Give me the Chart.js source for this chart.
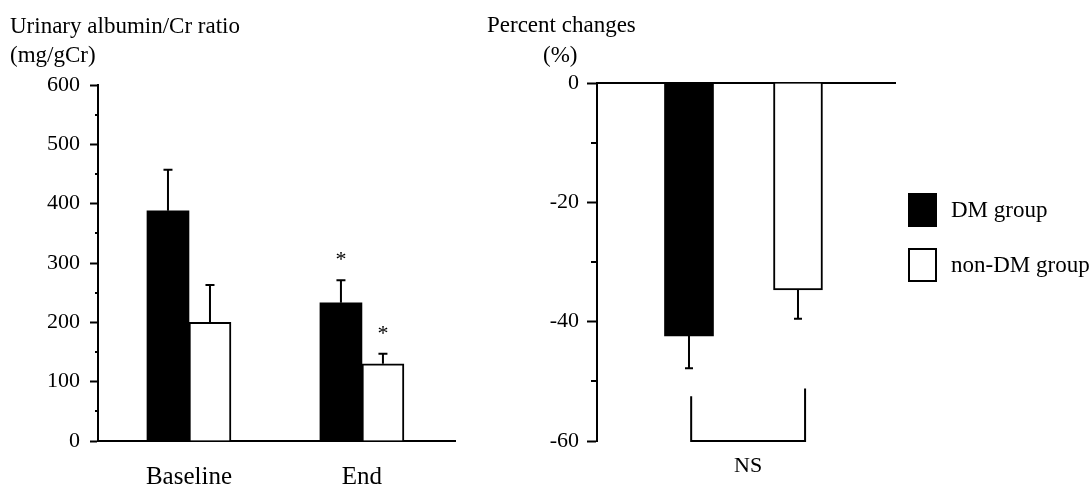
<!DOCTYPE html>
<html><head><meta charset="utf-8">
<script src="https://cdn.jsdelivr.net/npm/chart.js@4/dist/chart.umd.min.js"></script>
<style>
html,body{margin:0;padding:0;background:#fff;overflow:hidden}
#wrap{position:relative;width:1091px;height:488px;background:#fff}
#c1{position:absolute;left:0;top:0}
#c2{position:absolute;left:480px;top:0}
</style></head><body>
<div id="wrap"><canvas id="c1" width="480" height="488"></canvas><canvas id="c2" width="611" height="488"></canvas></div>
<script>
// ---- data ----
const periods = ['Baseline', 'End'];
const groups = ['DM group', 'non-DM group'];
const uacrDM = [388, 233];
const uacrDMErr = [69, 38];
const uacrNonDM = [200, 130];
const uacrNonDMErr = [63, 17];
const uacrDMMarks = ['', '*'];
const uacrNonDMMarks = ['', '*'];
const uacrTicks = [0, 100, 200, 300, 400, 500, 600];
const pctChange = [-42.4, -34.7];
const pctErr = [5.4, 4.8];
const pctTicks = [0, -20, -40, -60];
const leftTitle = ['Urinary albumin/Cr ratio', '(mg/gCr)'];
const rightTitle = ['Percent changes', '(%)'];
const nsLabel = 'NS';
const nsBracketTops = [-52.5, -51.2];
const nsBracketBottom = -60;

// ---- style ----
const FONT = "'Liberation Serif', 'Times New Roman', serif";
Chart.defaults.font.family = FONT;
Chart.defaults.color = '#000';

function drawErrorBars(chart, capHalf) {
  const ctx = chart.ctx;
  const ys = chart.scales.y;
  ctx.save();
  ctx.strokeStyle = '#000';
  ctx.lineWidth = 2;
  chart.data.datasets.forEach((ds, di) => {
    const meta = chart.getDatasetMeta(di);
    meta.data.forEach((el, i) => {
      const v = ds.data[i].y;
      const e = ds.err[i];
      const end = v >= 0 ? v + e : v - e;
      const y0 = ys.getPixelForValue(v);
      const y1 = ys.getPixelForValue(end);
      ctx.beginPath();
      ctx.moveTo(el.x, y0);
      ctx.lineTo(el.x, y1);
      ctx.moveTo(el.x - capHalf, y1);
      ctx.lineTo(el.x + capHalf, y1);
      ctx.stroke();
      if (ds.marks && ds.marks[i]) {
        ctx.fillStyle = '#000';
        ctx.font = '22px ' + FONT;
        ctx.textAlign = 'center';
        ctx.textBaseline = 'alphabetic';
        ctx.fillText(ds.marks[i], el.x, y1 - 14);
      }
    });
  });
  ctx.restore();
}

function drawMinorTicks(chart, len, width) {
  const ctx = chart.ctx;
  const ys = chart.scales.y;
  const ticks = ys.ticks.map(t => t.value).sort((a, b) => a - b);
  const x = chart.chartArea.left;
  ctx.save();
  ctx.strokeStyle = '#000';
  ctx.lineWidth = width;
  for (let i = 0; i < ticks.length - 1; i++) {
    const mid = (ticks[i] + ticks[i + 1]) / 2;
    const y = Math.round(ys.getPixelForValue(mid));
    ctx.beginPath();
    ctx.moveTo(x - len, y);
    ctx.lineTo(x, y);
    ctx.stroke();
  }
  ctx.restore();
}

// ---- left chart ----
new Chart(document.getElementById('c1'), {
  type: 'bar',
  data: {
    datasets: [
      { label: groups[0], data: periods.map((p, i) => ({ x: i + 1, y: uacrDM[i] })),
        backgroundColor: '#000', borderColor: '#000', borderWidth: 0, err: uacrDMErr, marks: uacrDMMarks },
      { label: groups[1], data: periods.map((p, i) => ({ x: i + 1, y: uacrNonDM[i] })),
        backgroundColor: '#fff', borderColor: '#000', borderWidth: 2, err: uacrNonDMErr, marks: uacrNonDMMarks }
    ]
  },
  options: {
    responsive: false, animation: false, devicePixelRatio: 1,
    layout: { padding: { left: 0, right: 25, top: 85, bottom: 0 } },
    plugins: { legend: { display: false }, tooltip: { enabled: false } },
    datasets: { bar: { barThickness: 42 } },
    scales: {
      x: {
        type: 'linear', min: 0.474, max: 2.538, offset: false, bounds: 'ticks',
        afterBuildTicks: s => { s.ticks = periods.map((p, i) => ({ value: i + 1 })); },
        ticks: { callback: v => periods[v - 1], font: { size: 25 }, padding: 21, maxRotation: 0, autoSkip: false },
        grid: { display: false, drawTicks: false, offset: false },
        border: { display: true, color: '#000', width: 2 },
        afterFit: s => { s.height = 47; }
      },
      y: {
        min: 0, max: 600,
        afterBuildTicks: s => { s.ticks = uacrTicks.map(v => ({ value: v })); },
        ticks: { font: { size: 22 }, padding: 10 },
        grid: { display: true, drawOnChartArea: false, drawTicks: true, tickLength: 8, tickWidth: 2, tickColor: '#000' },
        border: { display: true, color: '#000', width: 2 },
        afterFit: s => { s.width = 98; }
      }
    }
  },
  plugins: [{
    id: 'extrasLeft',
    afterDatasetsDraw(chart) { drawErrorBars(chart, 4.5); },
    afterDraw(chart) {
      drawMinorTicks(chart, 3, 2);
      const ctx = chart.ctx;
      ctx.save();
      ctx.fillStyle = '#000';
      ctx.font = '23px ' + FONT;
      ctx.textAlign = 'left';
      ctx.textBaseline = 'alphabetic';
      ctx.fillText(leftTitle[0], 10, 33);
      ctx.fillText(leftTitle[1], 10, 62);
      ctx.restore();
    }
  }]
});

// ---- right chart ----
new Chart(document.getElementById('c2'), {
  type: 'bar',
  data: {
    datasets: groups.map((g, i) => ({
      label: g, data: [{ x: i + 1, y: pctChange[i] }],
      backgroundColor: i ? '#fff' : '#000', borderColor: '#000', borderWidth: i ? 2 : 0, err: [pctErr[i]]
    }))
  },
  options: {
    responsive: false, animation: false, devicePixelRatio: 1,
    layout: { padding: { left: 0, right: 196, top: 83, bottom: 47 } },
    plugins: { legend: { display: false }, tooltip: { enabled: false } },
    datasets: { bar: { barThickness: 49, grouped: false } },
    scales: {
      x: {
        type: 'linear', position: 'top', min: 0.156, max: 2.89, offset: false,
        ticks: { display: false },
        grid: { display: false, drawTicks: false, offset: false },
        border: { display: true, color: '#000', width: 2 },
        afterFit: s => { s.height = 0; }
      },
      y: {
        min: -60, max: 0,
        afterBuildTicks: s => { s.ticks = pctTicks.map(v => ({ value: v })); },
        ticks: { font: { size: 22 }, padding: 8 },
        grid: { display: true, drawOnChartArea: false, drawTicks: true, tickLength: 10, tickWidth: 2, tickColor: '#000' },
        border: { display: true, color: '#000', width: 2 },
        afterFit: s => { s.width = 117; }
      }
    }
  },
  plugins: [{
    id: 'extrasRight',
    afterDatasetsDraw(chart) {
      drawErrorBars(chart, 4);
      const ctx = chart.ctx;
      const xs = chart.scales.x, ys = chart.scales.y;
      const xL = xs.getPixelForValue(1.02), xR = xs.getPixelForValue(2.065);
      const yB = ys.getPixelForValue(nsBracketBottom);
      ctx.save();
      ctx.strokeStyle = '#000';
      ctx.lineWidth = 2;
      ctx.beginPath();
      ctx.moveTo(xL, ys.getPixelForValue(nsBracketTops[0]));
      ctx.lineTo(xL, yB);
      ctx.lineTo(xR, yB);
      ctx.lineTo(xR, ys.getPixelForValue(nsBracketTops[1]));
      ctx.stroke();
      ctx.fillStyle = '#000';
      ctx.font = '22px ' + FONT;
      ctx.textAlign = 'center';
      ctx.textBaseline = 'middle';
      ctx.fillText(nsLabel, (xL + xR) / 2, yB + 25);
      ctx.restore();
    },
    afterDraw(chart) {
      drawMinorTicks(chart, 6, 2);
      const ctx = chart.ctx;
      const ca = chart.chartArea;
      ctx.save();
      ctx.fillStyle = '#000';
      ctx.font = '23px ' + FONT;
      ctx.textAlign = 'left';
      ctx.textBaseline = 'alphabetic';
      ctx.fillText(rightTitle[0], 7, 32);
      ctx.fillText(rightTitle[1], 63, 62);
      // legend
      chart.data.datasets.forEach((ds, i) => {
        const bx = ca.right + 13, by = 193 + i * 55, bw = 29, bh = 34;
        ctx.fillStyle = ds.backgroundColor;
        ctx.fillRect(bx, by, bw, bh);
        ctx.strokeStyle = '#000';
        ctx.lineWidth = 2;
        ctx.strokeRect(bx + 1, by + 1, bw - 2, bh - 2);
        ctx.fillStyle = '#000';
        ctx.textBaseline = 'middle';
        ctx.fillText(ds.label, bx + 43, by + bh / 2 + 1);
      });
      ctx.restore();
    }
  }]
});
</script>
</body></html>
